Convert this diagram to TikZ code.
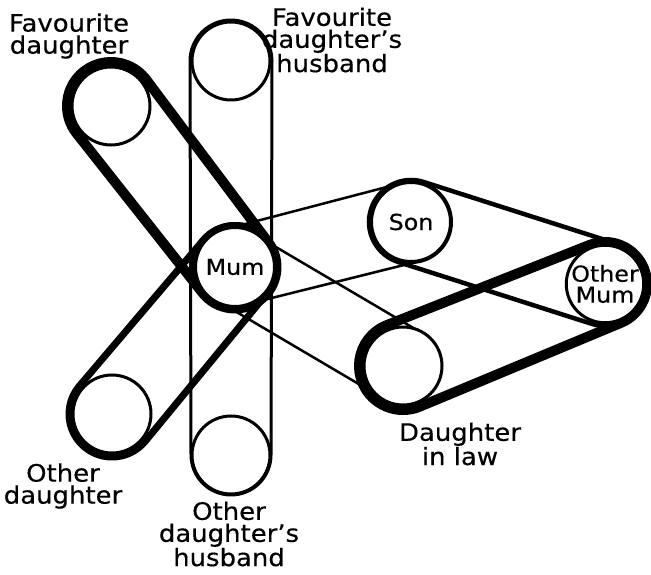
\documentclass[tikz,border=0pt]{standalone}
\usepackage{fontspec}
\setmainfont{DejaVu Sans}[FakeStretch=1.08, FakeBold=0.4]
\usetikzlibrary{calc,backgrounds}

\begin{document}
\begin{tikzpicture}[
        x=1pt, y=1pt,
        oseba/.style={draw, circle, fill=white, minimum size=78pt, inner sep=0pt,
            line width=3pt, align=center, font=\fontsize{22}{21}\selectfont},
        napis/.style={align=center, font=\fontsize{24}{22}\selectfont}
    ]
        \useasboundingbox (0,0) rectangle (651,574);

        % --- OSEBE ---
        \node[oseba] (fav) at (111, 468) {};
        \node[oseba] (favh) at (231, 513) {};
        \node[oseba] (oth) at (112, 160) {};
        \node[oseba] (othh) at (231, 119) {};
        \node[oseba, minimum size=83pt, line width=7pt] (mum) at (235, 307) {Mum};
        \node[oseba, minimum size=80pt, line width=4pt] (son) at (411, 352) {Son};
        \node[oseba, minimum size=74pt] (omum) at (605, 290) {Other\\Mum};
        \node[oseba] (dil) at (403, 208) {};

        % Napisi ob krogih
        \node[napis] (tfav) at (69, 538) {Favourite\\daughter};
        \node[napis] (tfavh) at (332, 534) {Favourite\\daughter's\\husband};
        \node[napis] (toth) at (63, 88) {Other\\daughter};
        \node[napis] (tothh) at (229, 40) {Other\\daughter's\\husband};
        \node[napis] (tdil) at (460, 130) {Daughter\\in law};

        % --- JERMENI MED OSEBAMI ---
        % ovojnica dveh krogov: a, b, polmer pri a, polmer pri b, debelina
        \begin{pgfonlayer}{background}
        \foreach \a/\b/\ra/\rb/\w in {fav/mum/44/41.5/10, oth/mum/43/41.5/7,
                favh/othh/41/40/3, mum/son/39/40/2.5, mum/dil/38/38/2.5,
                son/omum/42/42/4.5, dil/omum/44/42/10} {
            \draw[line width=\w pt, line join=round]
                let \p1 = ($(\b.center)-(\a.center)$),
                    \n1 = {atan2(\y1,\x1)},
                    \n2 = {veclen(\x1,\y1)},
                    \n3 = {acos((\ra-\rb)/\n2)} in
                ($(\a.center)+(\n1+\n3:\ra pt)$) -- ($(\b.center)+(\n1+\n3:\rb pt)$)
                arc[start angle=\n1+\n3, end angle=\n1-\n3, radius=\rb pt]
                -- ($(\a.center)+(\n1-\n3:\ra pt)$)
                arc[start angle=\n1-\n3, end angle=\n1+\n3-360, radius=\ra pt] -- cycle;
        }
        \end{pgfonlayer}
    \end{tikzpicture}
\end{document}
